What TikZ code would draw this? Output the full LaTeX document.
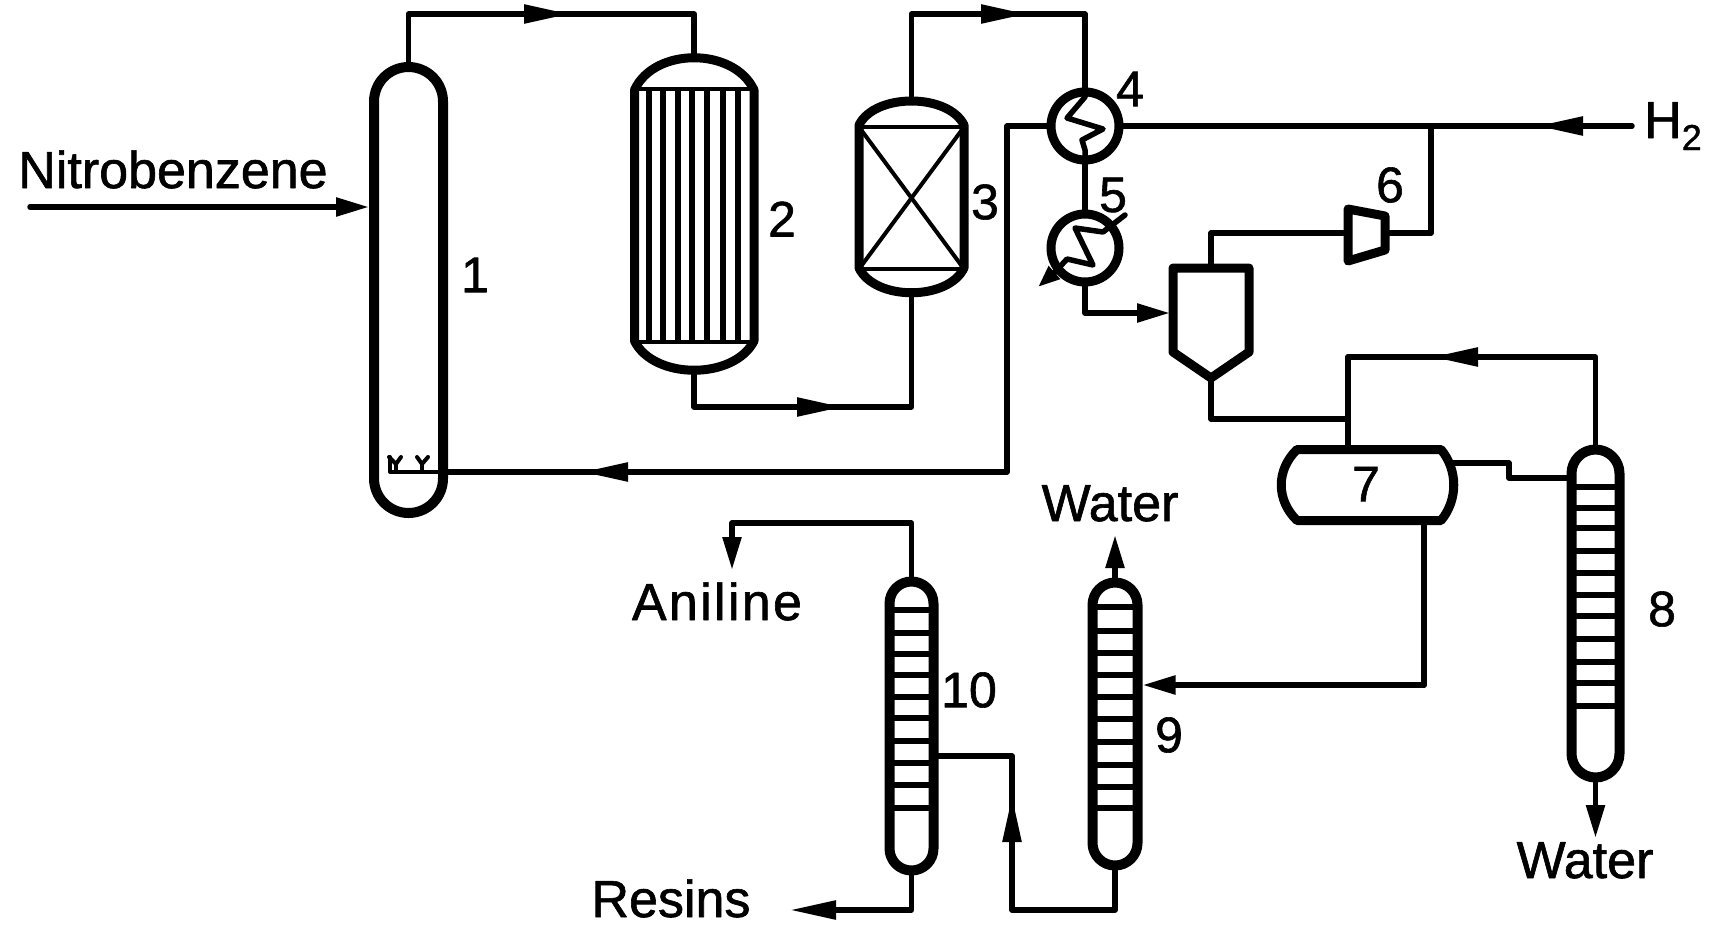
\documentclass[tikz,border=0pt]{standalone}
\usepackage{fontspec}
\setmainfont[FakeBold=1.2]{Liberation Sans}
\usetikzlibrary{arrows.meta,positioning,shapes.geometric}

\begin{document}
\begin{tikzpicture}[x=1pt, y=-1pt, >={Triangle[length=46pt,width=18pt]}, line cap=round, line join=round,]
   \tikzstyle{every node}=[inner sep=0pt]
   \tikzstyle{tower}=[rectangle, draw, line width=10pt, minimum width=#1pt, rounded corners=#1pt/2]
   \tikzstyle{shell}=[rectangle, outer sep=0pt]
   \tikzstyle{exchanger}=[circle, draw, line width=9pt, minimum size=68pt]
   \tikzstyle{wall}=[line width=9pt]
   \tikzstyle{pipe}=[line width=5.5pt]
   \tikzstyle{onward}=[pipe, shorten <=-14pt]
   \tikzstyle{flow}=[pipe, ->]
   \tikzstyle{flowshort}=[pipe, -{Triangle[length=33pt,width=18pt]}]
   \tikzstyle{inner}=[line width=4pt]
   \tikzstyle{caption}=[font=\fontsize{52}{60}\selectfont, anchor=base]
   \tikzstyle{number}=[font=\fontsize{50}{60}\selectfont]

   \useasboundingbox (0,0) rectangle (1713,924);

   % equipment
   \node[tower=69, minimum height=446pt] (column_one) at (408.5,290) {};
   \node[shell, minimum width=119.5pt, minimum height=311pt] (reactor_two) at (694.2,213.5) {};
   \node[shell, minimum width=105pt, minimum height=192pt] (reactor_three) at (911.5,197) {};
   \node[exchanger] (exchanger_four) at (1085,126) {};
   \node[exchanger] (exchanger_five) at (1085,248) {};
   \node[shell, minimum width=37pt, minimum height=52pt] (compressor_six) at (1366.5,233) {};
   \node[shell, minimum width=76pt, minimum height=110pt] (separator) at (1211,323) {};
   \node[shell, minimum width=172pt, minimum height=71pt] (drum_seven) at (1367,485) {};
   \node[tower=48, minimum height=328pt] (column_eight) at (1595.5,613.5) {};
   \node[tower=45, minimum height=283pt] (column_nine) at (1115,724) {};
   \node[tower=44, minimum height=289pt] (column_ten) at (911.5,726) {};

   % reactor 2
   \draw[wall] (634.5,90) .. controls (654,47) and (734,47) .. (754,90) -- (754,341)
      .. controls (734,380) and (654,380) .. (634.5,341) -- cycle;
   \draw[inner] (634.5,89) -- (754,89);
   \draw[inner] (634.5,342) -- (754,342);
   \foreach \tube in {649,663,678,692,707,723,738}
      \draw[pipe, line cap=butt] (\tube,89) -- (\tube,342);

   % reactor 3
   \draw[wall] (859,125) .. controls (875,93) and (948,93) .. (964,125) -- (964,268)
      .. controls (948,301) and (875,301) .. (859,268) -- cycle;
   \draw[inner] (859,127) -- (964,127);
   \draw[inner] (859,269) -- (964,269);
   \draw[inner] (859,127) -- (964,269);
   \draw[inner] (964,127) -- (859,269);

   % column 1 distributor
   \draw[inner] (390,457) -- (390,472) -- (448,472);
   \draw[inner] (389,457) -- (396,464) -- (401,457);
   \draw[inner] (396,464) -- (396,472);
   \draw[inner] (417,457) -- (422,464) -- (428,457);
   \draw[inner] (422,464) -- (422,472);

   % exchangers
   \draw[pipe] (1085,90) -- (1085,97) -- (1067,118) -- (1103,129) -- (1082,140) -- (1085,150) -- (1085,162);
   \draw[pipe] (1125,215) -- (1103,232) -- (1075,228) -- (1093,265) -- (1067,259) -- (1055,272);
   \draw[pipe, -{Triangle[length=22pt,width=16pt]}] (1055,272) -- (1038,287);

   % compressor, separator, drum
   \draw[wall] (1348,209) -- (1385,216) -- (1385,250) -- (1348,261) -- cycle;
   \draw[wall] (separator.north west) -- (separator.north east) -- (1249,352) -- (separator.south)
      -- (1173,352) -- cycle;
   \draw[wall] (1297,449.5) -- (1441,449.5) .. controls (1458,470) and (1458,500) .. (1441,520.5)
      -- (1297,520.5) .. controls (1276,500) and (1276,470) .. (1297,449.5) -- cycle;

   % trays
   \foreach \tray in {487,508,528,551,573,595,616,639,662,683,706}
      \draw[pipe] (1571.5,\tray) -- (1619.5,\tray);
   \foreach \tray in {607,631,653,675,697,719,742,765,787,808}
      \draw[pipe] (1092.5,\tray) -- (1137.5,\tray);
   \foreach \tray in {610,633,654,675,697,718,741,763,785,808}
      \draw[pipe] (889.5,\tray) -- (933.5,\tray);

   % labels
   \node[caption] (nitrobenzene) at (173,188) {Nitrobenzene};
   \node[caption, anchor=base west] (hydrogen) at (1644,138) {H\raisebox{-12pt}{\fontsize{36}{40}\selectfont 2}};
   \node[caption] (aniline) at (717,620) {\addfontfeature{LetterSpace=4.5}Aniline};
   \node[caption] (resins) at (671,917) {Resins};
   \node[caption] (water_nine) at (1110,521) {Water};
   \node[caption] (water_eight) at (1585,878) {Water};
   \node[number] (label_one) at (475,275) {1};
   \node[number] (label_two) at (782,219) {2};
   \node[number] (label_three) at (985,202) {3};
   \node[number] (label_four) at (1130,89) {4};
   \node[number] (label_five) at (1113,195) {5};
   \node[number] (label_six) at (1390,185) {6};
   \node[number] (label_seven) at (1366,484) {7};
   \node[number] (label_eight) at (1662,609) {8};
   \node[number] (label_nine) at (1169,735) {9};
   \node[number] (label_ten) at (969,690) {10};

   % arrow tips and bends of the lines
   \coordinate (feed_nitro) at (30,207);
   \coordinate (tip_overhead) at (570,14);
   \coordinate (tip_crude) at (843,407);
   \coordinate (tip_product) at (1027,14);
   \coordinate (recycle_turn) at (1007,126);
   \coordinate (tip_recycle) at (582,472);
   \coordinate (recycle_end) at (448,472);
   \coordinate (feed_hydrogen) at (1632,126);
   \coordinate (tip_hydrogen) at (1537,126);
   \coordinate (branch_top) at (1431,126);
   \coordinate (branch_low) at (1431,233);
   \coordinate (separator_in) at (1170,313);
   \coordinate (settler_turn) at (1348,419);
   \coordinate (reflux_corner) at (1348,357);
   \coordinate (tip_reflux) at (1432,357);
   \coordinate (step_eight) at (1509,478);
   \coordinate (feed_nine) at (1424,685);
   \coordinate (turn_aniline) at (732,523);
   \coordinate (tip_aniline) at (732,570);
   \coordinate (tip_resins) at (790,910);
   \coordinate (return_low) at (1012,910);
   \coordinate (tip_return) at (1012,796);
   \coordinate (tip_water_nine) at (1115,535);
   \coordinate (tip_water_eight) at (1595.5,838);

   \draw[flowshort] (feed_nitro) -- (feed_nitro -| column_one.west);
   \draw[flow] (column_one.north) |- (tip_overhead);
   \draw[onward] (tip_overhead) -| (reactor_two.north);
   \draw[flow] (reactor_two.south) |- (tip_crude);
   \draw[onward] (tip_crude) -| (reactor_three.south);
   \draw[flow] (reactor_three.north) |- (tip_product);
   \draw[onward] (tip_product) -| (exchanger_four.north);
   \draw[pipe] (exchanger_four.south) -- (exchanger_five.north);
   \draw[flow] (exchanger_four.west) -- (recycle_turn) |- (tip_recycle);
   \draw[onward] (tip_recycle) -- (recycle_end);
   \draw[flow] (feed_hydrogen) -- (tip_hydrogen);
   \draw[onward] (tip_hydrogen) -- (exchanger_four.east);
   \draw[pipe] (branch_top) -- (branch_low) -- (compressor_six.east);
   \draw[pipe] (compressor_six.west) -| (separator.north);
   \draw[flowshort] (exchanger_five.south) |- (separator_in);
   \draw[pipe] (separator.south) |- (settler_turn);
   \draw[pipe] (reflux_corner) -- (reflux_corner |- drum_seven.north);
   \draw[flow] (column_eight.north) |- (tip_reflux);
   \draw[onward] (tip_reflux) -- (reflux_corner);
   \draw[pipe] ([yshift=22pt]drum_seven.east) -| (step_eight) -- (step_eight -| column_eight.west);
   \draw[flowshort] (column_eight.south) -- (tip_water_eight);
   \draw[pipe] (feed_nine |- drum_seven.south) -- (feed_nine);
   \draw[flowshort] (feed_nine) -- (feed_nine -| column_nine.east);
   \draw[flowshort] (column_nine.north) -- (tip_water_nine);
   \draw[flow] (column_nine.south) |- (return_low) -- (tip_return);
   \draw[onward] (tip_return) |- ([yshift=-30pt]column_ten.east);
   \draw[flowshort] (column_ten.north) |- (turn_aniline) -- (tip_aniline);
   \draw[flow] (column_ten.south) |- (tip_resins);
\end{tikzpicture}
\end{document}
